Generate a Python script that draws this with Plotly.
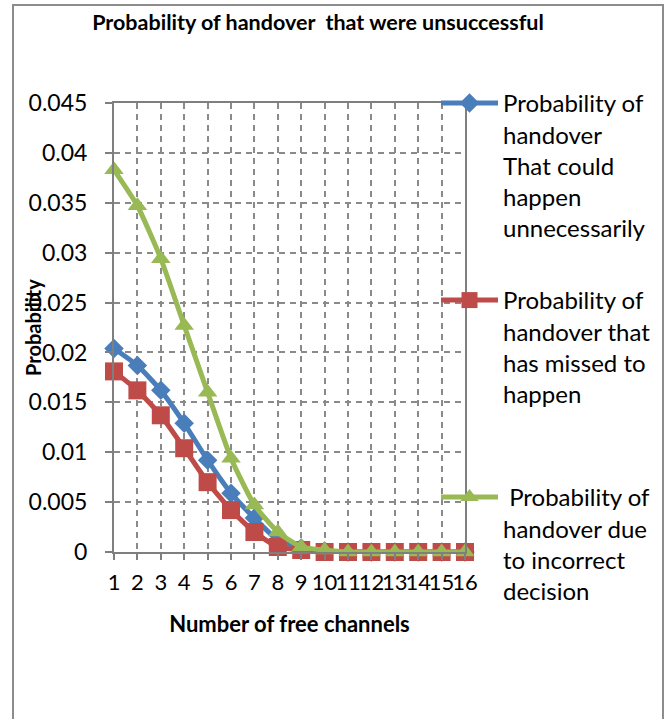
import plotly.graph_objects as go

# Number of free channels
channels = list(range(1, 17))

# Probability series
p_unnecessary = [0.0204, 0.0187, 0.0162, 0.0129, 0.0092, 0.0059, 0.0034, 0.0012,
                 0.0004, 0.0001, 0.0, 0.0, 0.0, 0.0, 0.0, 0.0]
p_missed = [0.0181, 0.0162, 0.0137, 0.0104, 0.0070, 0.0042, 0.0020, 0.0005,
            0.0002, 0.0, 0.0, 0.0, 0.0, 0.0, 0.0, 0.0]
p_incorrect = [0.0383, 0.0347, 0.0294, 0.0227, 0.0160, 0.0094, 0.0047, 0.0020,
               0.0005, 0.0002, 0.0, 0.0, 0.0, 0.0, 0.0, 0.0]

names = [
    "Probability of<br>handover<br>That could<br>happen<br>unnecessarily",
    "Probability of<br>handover that<br>has missed to<br>happen",
    "\u00a0Probability of<br>handover due<br>to incorrect<br>decision",
]

y_ticks = [0, 0.005, 0.01, 0.015, 0.02, 0.025, 0.03, 0.035, 0.04, 0.045]
y_ticktext = ["0", "0.005", "0.01", "0.015", "0.02", "0.025", "0.03", "0.035", "0.04", "0.045"]

FONT = "Lato"
GRID = "#8a8a8a"
AXIS = "#7f7f7f"

fig = go.Figure()

series = [
    (p_unnecessary, names[0], "#4a7ebb", "diamond", 15, "legend"),
    (p_missed, names[1], "#be4b48", "square", 18, "legend2"),
    (p_incorrect, names[2], "#98b954", "triangle-up", 17, "legend3"),
]
for vals, name, color, symbol, size, leg in series:
    fig.add_trace(go.Scatter(
        x=channels, y=vals, name=name, mode="lines+markers",
        line=dict(color=color, width=5, shape="spline", smoothing=0.5),
        marker=dict(symbol=symbol, size=size, color=color),
        cliponaxis=False, legend=leg, showlegend=True,
    ))

legend_common = dict(
    xanchor="left", yanchor="top", valign="top",
    font=dict(family=FONT, size=24, color="#000000"),
    bgcolor="rgba(0,0,0,0)", itemwidth=57, tracegroupgap=0,
)
LX = (436 - 114) / 351

fig.update_layout(
    width=670, height=719,
    margin=dict(l=114, r=205, t=103, b=167),
    paper_bgcolor="white", plot_bgcolor="white",
    font=dict(family=FONT, color="#000000"),
    showlegend=True,
    title=dict(
        text="<b>Probability of handover  that were unsuccessful</b>",
        x=(318 - 114) / 351, xref="paper", xanchor="center",
        y=1 - 22 / 719, yanchor="middle",
        font=dict(family=FONT, size=21.5, color="#000000"),
    ),
    xaxis=dict(
        range=[1, 16], tickmode="array", tickvals=channels,
        ticktext=[str(c) for c in channels], tickangle=0,
        tickfont=dict(family=FONT, size=22, color="#000000"),
        showline=True, linecolor=AXIS, linewidth=2, mirror=True,
        ticks="outside", ticklen=6, tickcolor=AXIS, tickwidth=1.5,
        showgrid=True, gridcolor=GRID, gridwidth=1.5, griddash="6px,5px",
        zeroline=False, ticklabelstandoff=4,
        title=dict(text="<b>Number of free channels</b>",
                   font=dict(family=FONT, size=22, color="#000000"), standoff=22),
    ),
    yaxis=dict(
        range=[0, 0.045], tickmode="array", tickvals=y_ticks, ticktext=y_ticktext,
        tickfont=dict(family=FONT, size=23, color="#000000"),
        showline=True, linecolor=AXIS, linewidth=2, mirror=True,
        ticks="outside", ticklen=7, tickcolor=AXIS, tickwidth=1.5,
        showgrid=True, gridcolor=GRID, gridwidth=1.5, griddash="6px,5px",
        zeroline=False, ticklabelstandoff=13,
    ),
    legend=dict(x=LX, y=(552 - 81) / 449, **legend_common),
    legend2=dict(x=LX, y=(552 - 278) / 449, **legend_common),
    legend3=dict(x=LX, y=(552 - 475) / 449, **legend_common),
    annotations=[dict(
        text="<b>Probability</b>", textangle=-90,
        xref="paper", yref="paper", x=(33 - 114) / 351, y=(552 - 328) / 449,
        xanchor="center", yanchor="middle", showarrow=False,
        font=dict(family=FONT, size=20, color="#000000"),
    )],
    shapes=[dict(
        type="rect", xref="paper", yref="paper",
        x0=(13 - 114) / 351, x1=(663 - 114) / 351,
        y0=(552 - 730) / 449, y1=(552 - 5) / 449,
        line=dict(color="#8c8c8c", width=2), fillcolor="rgba(0,0,0,0)",
        layer="below",
    )],
)

fig.write_html("out.html")
